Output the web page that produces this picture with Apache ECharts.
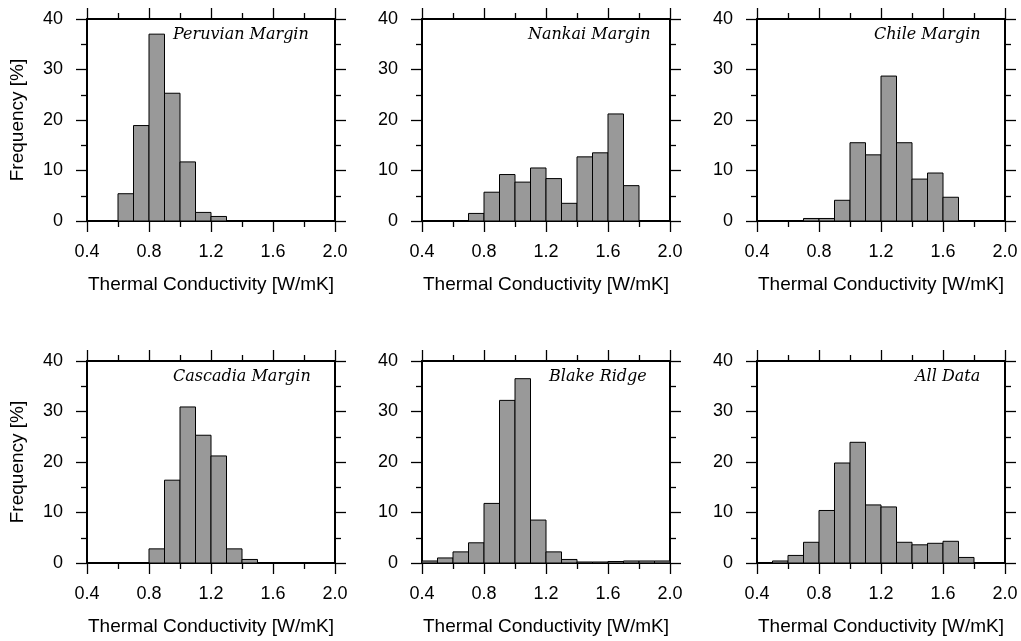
<!DOCTYPE html>
<html><head><meta charset="utf-8">
<script src="https://cdn.jsdelivr.net/npm/echarts@6/dist/echarts.min.js"></script>
<style>html,body{margin:0;padding:0;background:#fff}#c{width:1021px;height:641px}</style>
</head><body><div id="c"></div>
<script>
// Histogram bins (left edges), width 0.1 W/mK
const binStarts = [0.4,0.5,0.6,0.7,0.8,0.9,1.0,1.1,1.2,1.3,1.4,1.5,1.6,1.7,1.8,1.9];
const binWidth = 0.1;
const xTickLabels = [0.4,0.8,1.2,1.6,2.0];
const yTickLabels = [0,10,20,30,40];
const panelTitles = ['Peruvian Margin','Nankai Margin','Chile Margin','Cascadia Margin','Blake Ridge','All Data'];

const peruvian = [0,0,5.4,18.9,37.0,25.3,11.7,1.7,0.9,0,0,0,0,0,0,0];
const nankai   = [0,0,0,1.5,5.7,9.2,7.7,10.5,8.4,3.5,12.7,13.5,21.2,7.0,0,0];
const chile    = [0,0,0,0.5,0.5,4.1,15.5,13.1,28.7,15.5,8.3,9.5,4.7,0,0,0];
const cascadia = [0,0,0,0,2.8,16.4,30.9,25.3,21.2,2.8,0.7,0,0,0,0,0];
const blake    = [0.4,1.0,2.2,4.0,11.8,32.2,36.5,8.5,2.2,0.7,0.2,0.2,0.3,0.4,0.4,0.4];
const allData  = [0.1,0.4,1.5,4.1,10.4,19.8,23.9,11.5,11.1,4.1,3.6,3.9,4.3,1.1,0,0];

const panelValues = [peruvian, nankai, chile, cascadia, blake, allData];

const gridLefts = [87, 422, 757];
const gridTops = [19, 361];
const gridW = 248, gridH = 202;
const titlePos = [[173,27],[528,27],[874,27],[173,369],[549,369],[915,369]];

const FONT = '"Liberation Sans", Arial, Helvetica, sans-serif';
const xMin = xTickLabels[0], xMax = xTickLabels[xTickLabels.length-1];
const yMin = yTickLabels[0], yMax = yTickLabels[yTickLabels.length-1];

const grids = [], xAxes = [], yAxes = [], series = [], titles = [];
const lineStyle = {color:'#000', width:2};
const tickStyle = {color:'#000', width:1.3};

panelValues.forEach((vals, i) => {
  const col = i % 3, row = Math.floor(i / 3);
  grids.push({left: gridLefts[col], top: gridTops[row], width: gridW, height: gridH, containLabel: false});
  xAxes.push({
    type: 'value', gridIndex: i, position: 'bottom', min: xMin, max: xMax, interval: 0.4,
    axisLine: {show: true, onZero: false, lineStyle: lineStyle},
    axisTick: {show: true, length: 11, inside: false, lineStyle: tickStyle},
    minorTick: {show: true, splitNumber: 2, length: 6, lineStyle: tickStyle},
    splitLine: {show: false}, minorSplitLine: {show: false},
    axisLabel: {show: true, margin: 22, fontSize: 18, color: '#000', fontFamily: FONT,
      showMinLabel: true, showMaxLabel: true, formatter: v => (+v).toFixed(1)},
    name: 'Thermal Conductivity [W/mK]', nameLocation: 'middle', nameGap: 54,
    nameTextStyle: {fontSize: 19, color: '#000', fontFamily: FONT}
  });
  xAxes.push({
    type: 'value', gridIndex: i, position: 'top', min: xMin, max: xMax, interval: 0.4,
    axisLine: {show: true, onZero: false, lineStyle: lineStyle},
    axisTick: {show: true, length: 11, inside: false, lineStyle: tickStyle},
    minorTick: {show: true, splitNumber: 2, length: 6, lineStyle: tickStyle},
    splitLine: {show: false}, axisLabel: {show: false}
  });
  yAxes.push({
    type: 'value', gridIndex: i, position: 'left', min: yMin, max: yMax, interval: 10,
    axisLine: {show: true, onZero: false, lineStyle: lineStyle},
    axisTick: {show: true, length: 11, inside: false, lineStyle: tickStyle},
    minorTick: {show: true, splitNumber: 2, length: 6, lineStyle: tickStyle},
    splitLine: {show: false}, minorSplitLine: {show: false},
    axisLabel: {show: true, margin: 24, fontSize: 18, color: '#000', fontFamily: FONT},
    name: col === 0 ? 'Frequency [%]' : '', nameLocation: 'middle', nameGap: 60,
    nameTextStyle: {fontSize: 19, color: '#000', fontFamily: FONT}
  });
  yAxes.push({
    type: 'value', gridIndex: i, position: 'right', min: yMin, max: yMax, interval: 10,
    axisLine: {show: true, onZero: false, lineStyle: lineStyle},
    axisTick: {show: true, length: 11, inside: false, lineStyle: tickStyle},
    minorTick: {show: true, splitNumber: 2, length: 6, lineStyle: tickStyle},
    splitLine: {show: false}, axisLabel: {show: false}
  });
  series.push({
    type: 'custom', xAxisIndex: 2*i, yAxisIndex: 2*i, z: 1,
    data: binStarts.map((b, k) => [b, vals[k]]),
    encode: {x: 0, y: 1},
    renderItem: function (params, api) {
      const x0 = api.value(0), y = api.value(1);
      if (!(y > 0)) return null;
      const p0 = api.coord([x0, 0]);
      const p1 = api.coord([x0 + binWidth, y]);
      return {type: 'rect',
        shape: {x: p0[0], y: p1[1], width: p1[0] - p0[0], height: p0[1] - p1[1]},
        style: {fill: '#999999', stroke: '#000', lineWidth: 1}};
    }
  });
  titles.push({text: panelTitles[i], left: titlePos[i][0], top: titlePos[i][1], padding: 0,
    textStyle: {fontFamily: '"DejaVu Serif", "Liberation Serif", serif', fontStyle: 'italic',
      fontWeight: 'normal', fontSize: 16, color: '#000'}});
});

const chart = echarts.init(document.getElementById('c'), null, {renderer: 'canvas'});
chart.setOption({
  animation: false,
  backgroundColor: '#fff',
  title: titles,
  grid: grids, xAxis: xAxes, yAxis: yAxes, series: series
});
</script></body></html>
